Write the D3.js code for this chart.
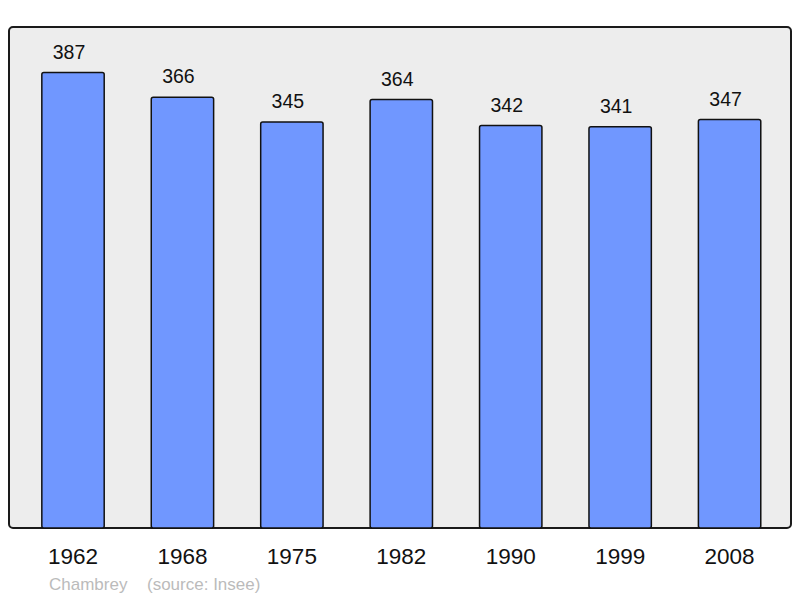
<!DOCTYPE html>
<html>
<head>
<meta charset="utf-8">
<script src="https://cdn.jsdelivr.net/npm/d3@7"></script>
<style>
  body { margin: 0; background: #fff; }
  text { font-family: "Liberation Sans", Arial, sans-serif; }
</style>
</head>
<body>
<div id="chart"></div>
<script>
// Data
const years = ["1962", "1968", "1975", "1982", "1990", "1999", "2008"];
const population = [387, 366, 345, 364, 342, 341, 347];
const commune = "Chambrey";
const source = "(source: Insee)";

const width = 800;
const height = 598;

// Panel box
const panel = { left: 9, right: 791, top: 27, bottom: 528 };

const svg = d3
  .select("#chart")
  .append("svg")
  .attr("width", width)
  .attr("height", height);

const x = d3
  .scaleBand()
  .domain(years)
  .range([18.3, 784.3])
  .paddingInner(0.43)
  .paddingOuter(0.215);

const y = d3
  .scaleLinear()
  .domain([0, d3.max(population) * 1.1])
  .range([panel.bottom, panel.top]);

// Background panel
svg
  .append("rect")
  .attr("x", panel.left)
  .attr("y", panel.top)
  .attr("width", panel.right - panel.left)
  .attr("height", panel.bottom - panel.top)
  .attr("rx", 4)
  .attr("fill", "#ededed")
  .attr("stroke", "#1a1a1a")
  .attr("stroke-width", 2);

const data = years.map((yr, i) => ({ year: yr, value: population[i] }));

// Bars
svg
  .selectAll("rect.bar")
  .data(data)
  .enter()
  .append("rect")
  .attr("class", "bar")
  .attr("x", (d) => x(d.year))
  .attr("y", (d) => y(d.value))
  .attr("width", x.bandwidth())
  .attr("height", (d) => panel.bottom - y(d.value))
  .attr("rx", 2)
  .attr("fill", "#7097ff")
  .attr("stroke", "#111")
  .attr("stroke-width", 1.5);

// Value labels
svg
  .selectAll("text.value")
  .data(data)
  .enter()
  .append("text")
  .attr("class", "value")
  .attr("x", (d) => x(d.year) + x.bandwidth() / 2 - 4)
  .attr("y", (d) => y(d.value) - 14)
  .attr("text-anchor", "middle")
  .attr("font-size", 19.5)
  .attr("fill", "#111")
  .text((d) => d.value);

// Year axis labels
const xAxis = d3.axisBottom(x).tickSize(0).tickPadding(0);
const axisG = svg
  .append("g")
  .attr("transform", `translate(0, ${panel.bottom})`)
  .call(xAxis);
axisG.select(".domain").remove();
axisG
  .selectAll("text")
  .attr("font-size", 22.5)
  .attr("fill", "#111")
  .attr("font-family", "Liberation Sans, Arial, sans-serif")
  .attr("dy", null)
  .attr("y", 36);

// Footer
svg
  .append("text")
  .attr("x", 49)
  .attr("y", 590)
  .attr("font-size", 17)
  .attr("fill", "#bbbbbb")
  .text(commune);
svg
  .append("text")
  .attr("x", 147)
  .attr("y", 590)
  .attr("font-size", 17)
  .attr("fill", "#bbbbbb")
  .text(source);
</script>
</body>
</html>
